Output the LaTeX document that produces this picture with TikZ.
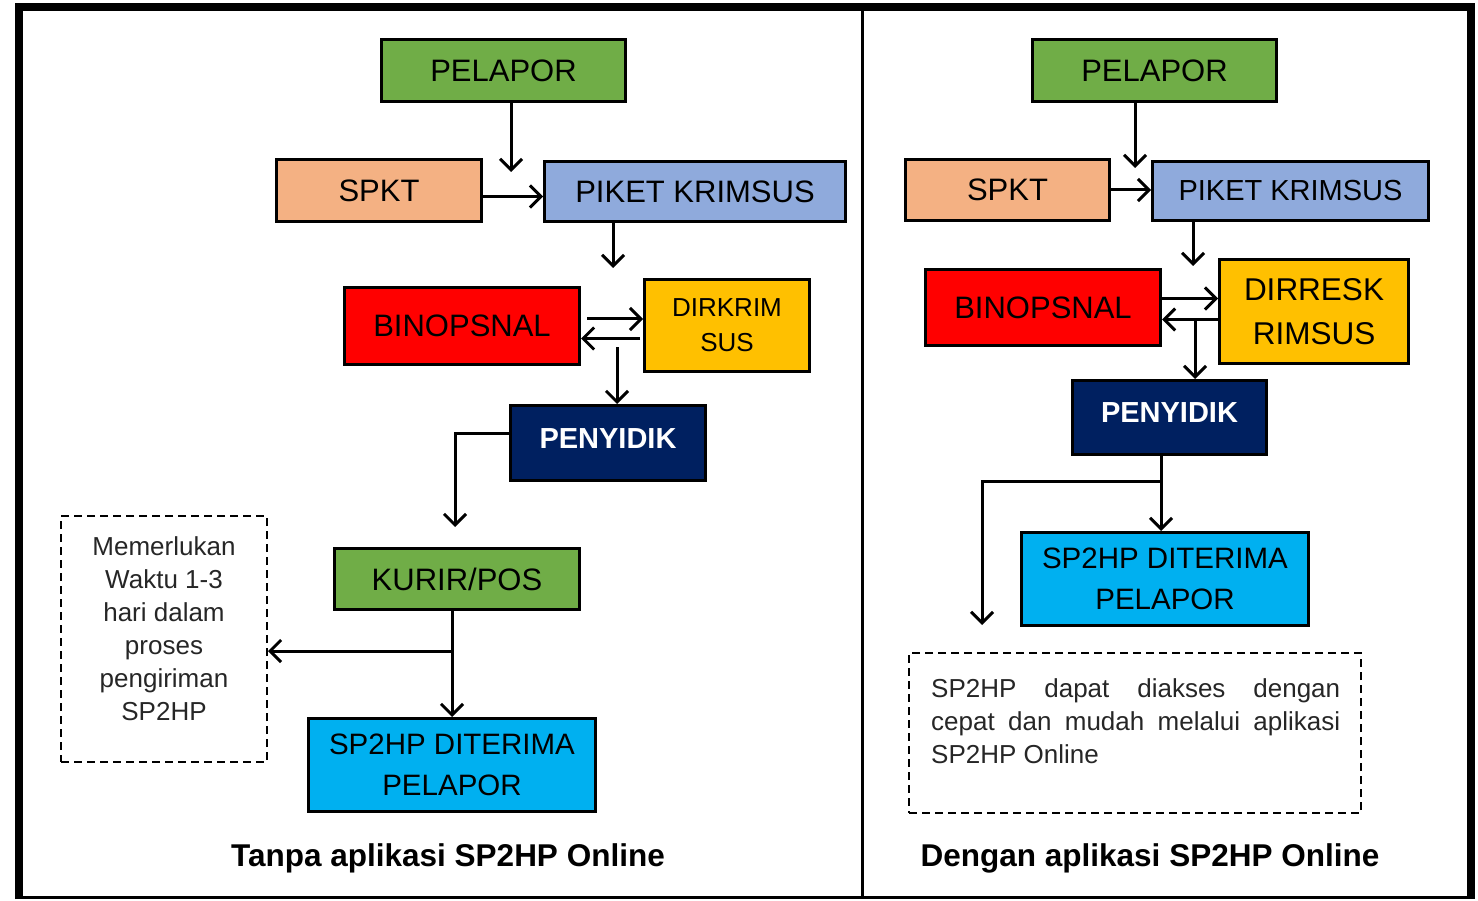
\documentclass[tikz,border=0pt]{standalone}
\usepackage{fontspec}
\setmainfont{Liberation Sans}
\usepackage{xcolor}
\usetikzlibrary{arrows.meta}
\definecolor{hijau}{HTML}{70AD47}
\definecolor{jingga}{HTML}{F4B183}
\definecolor{biru}{HTML}{8FAADC}
\definecolor{merah}{HTML}{FF0000}
\definecolor{kuning}{HTML}{FFC000}
\definecolor{navy}{HTML}{002060}
\definecolor{cyan}{HTML}{00B0F0}
\tikzset{
    RA1/.style ={rectangle, draw=black, line width=3pt, inner sep=0pt, align=center,
                 font=\fontsize{31}{41}\selectfont},
    RG1/.style ={RA1, fill=hijau},
    RO1/.style ={RA1, fill=jingga},
    RB1/.style ={RA1, fill=biru},
    RR1/.style ={RA1, fill=merah},
    RY1/.style ={RA1, fill=kuning},
    RN1/.style ={RA1, fill=navy, text=white, font=\fontsize{29}{35}\bfseries},
    RC1/.style ={RA1, fill=cyan},
    DB1/.style ={rectangle, draw=black, line width=2pt, dash pattern=on 8pt off 5pt, inner sep=0pt},
    TX1/.style ={inner sep=0pt, text=black!85, font=\fontsize{26}{33}\selectfont},
    TT1/.style ={inner sep=0pt, font=\fontsize{31.5}{38}\bfseries},
    AR1/.style ={line width=3pt, -{Straight Barb[length=11pt,width=22pt]}}
}
\begin{document}
\begin{tikzpicture}[x=1pt,y=-1pt]
    \useasboundingbox (0,0) rectangle (1478,901);
    % frame
    \draw[line width=8pt] (19,899) -- (19,7) -- (1471,7) -- (1471,899);
    \draw[line width=3pt] (15,897.5) -- (1475,897.5);
    \draw[line width=3pt] (862,7) -- (862,899);

    % tanpa aplikasi
    \node[RG1, minimum width=244pt, minimum height=62pt] (pel1) at (503.5,70.5) {PELAPOR};
    \node[RO1, minimum width=205pt, minimum height=62pt] (spkt1) at (379,190.5) {SPKT};
    \node[RB1, minimum width=301pt, minimum height=60pt] (piket1) at (695,191.5) {PIKET KRIMSUS};
    \node[RR1, minimum width=235pt, minimum height=77pt] (binop1) at (462,326) {BINOPSNAL};
    \node[RY1, minimum width=165pt, minimum height=92pt, font=\fontsize{26}{35}\selectfont] (dirk1) at (727,325.5) {DIRKRIM\\SUS};
    \node[RN1, minimum width=195pt, minimum height=75pt] (peny1) at (608,443) {\raisebox{9pt}{PENYIDIK}};
    \node[RG1, minimum width=245pt, minimum height=61pt] (kurir1) at (457,579) {KURIR/POS};
    \node[RC1, minimum width=287pt, minimum height=93pt, font=\fontsize{29.5}{41}\selectfont] (terima1) at (452,765) {SP2HP DITERIMA\\PELAPOR};
    \node[DB1, minimum width=206pt, minimum height=246pt] (note1) at (164,639) {};
    \node[TX1, align=center] (note1txt) at (164,629) {Memerlukan\\Waktu 1-3\\hari dalam\\proses\\pengiriman\\SP2HP};
    \node[TT1] (judul1) at (448,858) {Tanpa aplikasi SP2HP Online};

    \coordinate (c1) at (511,172);
    \coordinate (c2) at (613,268);
    \coordinate (c3) at (617,347);
    \coordinate (c4) at (455,527);
    \coordinate (c5) at (452,651);
    \draw[AR1] (pel1.south -| c1) -- (c1);
    \draw[AR1] ([yshift=-6pt]spkt1.east) -- ([yshift=-6pt]spkt1.east -| piket1.west);
    \draw[AR1] (piket1.south -| c2) -- (c2);
    \draw[AR1, shorten <=6pt] ([yshift=7pt]binop1.east) -- ([yshift=7pt]binop1.east -| dirk1.west);
    \draw[AR1, shorten <=3pt] ([yshift=-13pt]dirk1.west) -- ([yshift=-13pt]dirk1.west -| binop1.east);
    \draw[AR1] (c3) -- (c3 |- peny1.north);
    \draw[AR1] ([yshift=10pt]peny1.west) -| (c4);
    \draw[AR1] (kurir1.south -| c5) -- (terima1.north -| c5);
    \draw[AR1] (c5) -- (c5 -| note1.east);

    % dengan aplikasi
    \node[RG1, minimum width=244pt, minimum height=62pt] (pel2) at (1154.5,70.5) {PELAPOR};
    \node[RO1, minimum width=204pt, minimum height=61pt] (spkt2) at (1007.5,190) {SPKT};
    \node[RB1, minimum width=276pt, minimum height=59pt, font=\fontsize{29}{35}\selectfont] (piket2) at (1290.5,191) {PIKET KRIMSUS};
    \node[RR1, minimum width=235pt, minimum height=76pt] (binop2) at (1043,307.5) {BINOPSNAL};
    \node[RY1, minimum width=189pt, minimum height=104pt, font=\fontsize{31.5}{44}\selectfont] (dirr2) at (1314,311.5) {DIRRESK\\RIMSUS};
    \node[RN1, minimum width=194pt, minimum height=74pt] (peny2) at (1169.5,417.5) {\raisebox{10pt}{PENYIDIK}};
    \node[RC1, minimum width=287pt, minimum height=93pt, font=\fontsize{29.5}{41}\selectfont] (terima2) at (1165,579) {SP2HP DITERIMA\\PELAPOR};
    \node[DB1, minimum width=452pt, minimum height=160pt] (note2) at (1135,733) {};
    \node[TX1, text width=409pt, align=justify, anchor=north west] (note2txt) at (931,678)
        {\hyphenpenalty=10000 SP2HP dapat diakses dengan\linebreak cepat dan mudah melalui aplikasi\linebreak SP2HP Online};
    \node[TT1] (judul2) at (1150,858) {Dengan aplikasi SP2HP Online};

    \coordinate (c6) at (1135,168);
    \coordinate (c7) at (1193,266);
    \coordinate (c8) at (1195,320);
    \coordinate (c9) at (1161,481);
    \coordinate (c10) at (982,625);
    \draw[AR1] (pel2.south -| c6) -- (c6);
    \draw[AR1] (spkt2.east) -- (spkt2.east -| piket2.west);
    \draw[AR1] (piket2.south -| c7) -- (c7);
    \draw[AR1] ([yshift=9pt]binop2.east) -- ([yshift=9pt]binop2.east -| dirr2.west);
    \draw[AR1] ([yshift=-8pt]dirr2.west) -- ([yshift=-8pt]dirr2.west -| binop2.east);
    \draw[AR1] (c8) -- (c8 |- peny2.north);
    \draw[AR1] (peny2.south -| c9) -- (terima2.north -| c9);
    \draw[AR1] (c9) -| (c10);
\end{tikzpicture}
\end{document}
